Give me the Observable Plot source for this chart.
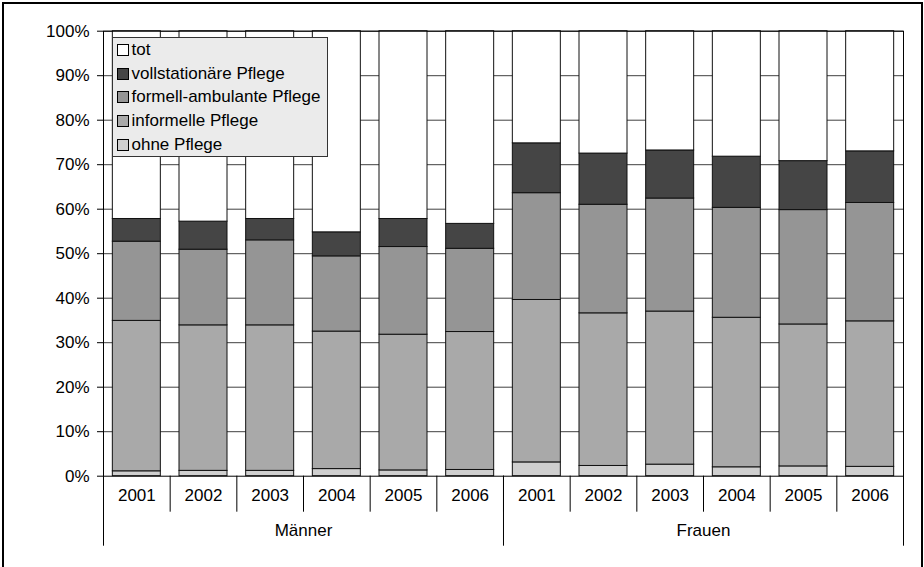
<!DOCTYPE html>
<html><head><meta charset="utf-8">
<script src="https://cdn.jsdelivr.net/npm/d3@7"></script>
<script src="https://cdn.jsdelivr.net/npm/@observablehq/plot@0.6"></script>
<style>
html,body{margin:0;padding:0;background:#fff;overflow:hidden;width:924px;height:567px}
#wrap{position:relative;width:924px;height:567px;font-family:Arial,"Liberation Sans",sans-serif}
#wrap svg{position:absolute;left:0;top:0}
#border{position:absolute;left:2px;top:2px;width:921px;height:700px;border:2px solid #000;box-sizing:border-box;pointer-events:none}
#legend{position:absolute;left:111.5px;top:36.5px;width:216px;height:120px;background:#ebebeb;border:1px solid #333;box-sizing:border-box;padding-top:1px}
.row{height:23.6px;display:flex;align-items:center;font-size:17px;color:#000;white-space:nowrap}
.sw{width:12px;height:12px;border:1px solid #000;box-sizing:border-box;margin-left:4px;margin-right:3px;flex:none}
</style></head><body><div id="wrap"><div id="border"></div></div>
<script>
// Categories
const groups = ["Männer", "Frauen"];
const years = ["2001", "2002", "2003", "2004", "2005", "2006"];
// Series (bottom to top of stack)
const series = ["ohne Pflege", "informelle Pflege", "formell-ambulante Pflege", "vollstationäre Pflege", "tot"];
const colors = ["#cfcfcf", "#a9a9a9", "#959595", "#454545", "#ffffff"];
// Values in percent, order: Männer 2001..2006, Frauen 2001..2006
const ohnePflege       = [1.1, 1.2, 1.2, 1.6, 1.3, 1.4,   3.1, 2.3, 2.6, 2.0, 2.2, 2.1];
const informellePflege = [33.8, 32.7, 32.7, 30.9, 30.5, 31.0,   36.5, 34.3, 34.4, 33.6, 31.9, 32.7];
const formellAmbulant  = [17.8, 17.0, 19.1, 16.9, 19.7, 18.7,   24.0, 24.4, 25.4, 24.7, 25.7, 26.6];
const vollstationaer   = [5.1, 6.3, 4.8, 5.4, 6.3, 5.6,   11.2, 11.5, 10.8, 11.5, 11.0, 11.6];
const tot              = [42.2, 42.8, 42.2, 45.2, 42.2, 43.3,   25.2, 27.5, 26.8, 28.2, 29.2, 27.0];
// Tick values
const yTicks = [0, 0.1, 0.2, 0.3, 0.4, 0.5, 0.6, 0.7, 0.8, 0.9, 1.0];

const values = [ohnePflege, informellePflege, formellAmbulant, vollstationaer, tot];
const cats = groups.flatMap(g => years.map(y => g + " " + y));
const rows = [];
series.forEach((s, si) => cats.forEach((c, ci) => rows.push({cat: c, series: s, value: values[si][ci] / 100})));

const W = 924, H = 567, mL = 103, mR = 21, mT = 30.7, mB = 91.3;
const step = (W - mL - mR) / cats.length;
const font = "Arial, 'Liberation Sans', sans-serif";

const chart = Plot.plot({
  width: W, height: H,
  marginLeft: mL, marginRight: mR, marginTop: mT, marginBottom: mB,
  style: {fontFamily: font, fontSize: "17px", color: "#000", background: "transparent", overflow: "visible"},
  x: {domain: cats, paddingInner: 0.28, paddingOuter: 0.14, round: false, axis: null},
  y: {domain: [0, 1], axis: null},
  color: {domain: series, range: colors},
  marks: [
    Plot.ruleY(yTicks.filter(d => d > 0), {stroke: "#404040", strokeWidth: 1}),
    Plot.barY(rows, {x: "cat", y: "value", fill: "series", order: series, stroke: "#111", strokeWidth: 1}),
    Plot.frame({stroke: "#000", strokeWidth: 1}),
    Plot.axisY({ticks: yTicks, tickFormat: d3.format(".0%"), tickSize: 6, tickPadding: 8, label: null, fontSize: 17, stroke: "#000"}),
    // year separators below the axis
    Plot.ruleX(cats, {x: d => d, y1: 0, y2: 0, dx: -step / 2, insetBottom: -36, stroke: "#000"}),
    Plot.ruleX(cats.slice(-1), {x: d => d, y1: 0, y2: 0, dx: step / 2, insetBottom: -70, stroke: "#000"}),
    // group separators
    Plot.ruleX(groups.map(g => g + " " + years[0]), {x: d => d, y1: 0, y2: 0, dx: -step / 2, insetBottom: -70, stroke: "#000"}),
    // year labels
    Plot.text(cats, {x: d => d, text: d => d.split(" ")[1], frameAnchor: "bottom", dy: 25, fontSize: 17, fill: "#000"}),
    // group labels
    Plot.text(groups, {x: g => g + " " + years[2], text: d => d, dx: step / 2, frameAnchor: "bottom", dy: 60, fontSize: 17, fill: "#000"})
  ]
});
const wrap = document.getElementById("wrap");
wrap.insertBefore(chart, wrap.firstChild);

// Legend (inside the plot, top-left)
const legend = document.createElement("div");
legend.id = "legend";
series.slice().reverse().forEach(s => {
  const i = series.indexOf(s);
  const row = document.createElement("div");
  row.className = "row";
  const sw = document.createElement("span");
  sw.className = "sw";
  sw.style.background = colors[i];
  const t = document.createElement("span");
  t.textContent = s;
  row.appendChild(sw); row.appendChild(t);
  legend.appendChild(row);
});
wrap.appendChild(legend);
</script>
</body></html>
